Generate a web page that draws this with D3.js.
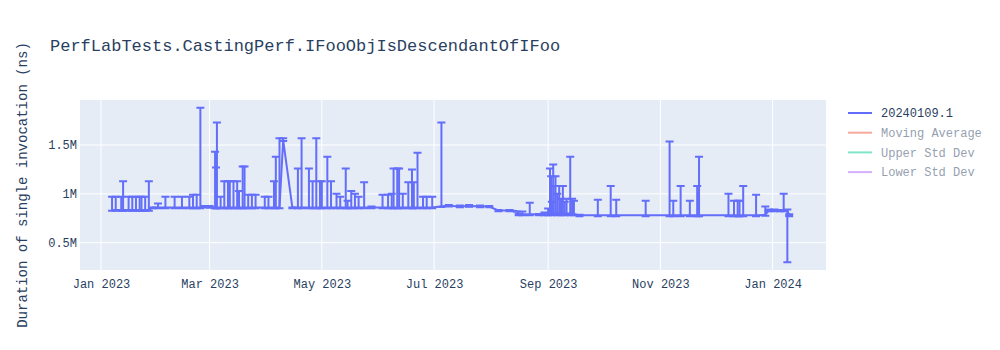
<!DOCTYPE html>
<html>
<head>
<meta charset="utf-8">
<script src="https://cdn.jsdelivr.net/npm/d3@7"></script>
<style>
  body { margin: 0; background: #fff; }
  svg text { font-family: "Courier New", "Liberation Mono", monospace; fill: #2a3f5f; }
  .grid line { stroke: #fff; stroke-width: 1; }
  .axis path, .axis line { display: none; }
</style>
</head>
<body>
<script>
const title = 'PerfLabTests.CastingPerf.IFooObjIsDescendantOfIFoo'
const yTitle = 'Duration of single invocation (ns)'
const seriesNames = ['20240109.1', 'Moving Average', 'Upper Std Dev', 'Lower Std Dev']
const seriesColors = ['#636efa', '#EF553B', '#00cc96', '#ab63fa']
const yTicks = [500000, 1000000, 1500000]
const xTicks = ['2023-01-01', '2023-03-01', '2023-05-01', '2023-07-01', '2023-09-01', '2023-11-01', '2024-01-01']

// run dates, measured value, and top / bottom of each error bar (ns)
const dates = [
  '2023-01-07','2023-01-09','2023-01-12','2023-01-13','2023-01-16','2023-01-18','2023-01-20','2023-01-22','2023-01-23','2023-01-25',
  '2023-01-27','2023-01-29','2023-02-01','2023-02-05','2023-02-10','2023-02-14','2023-02-18','2023-02-20','2023-02-22','2023-02-24',
  '2023-02-26','2023-03-01','2023-03-04','2023-03-04T12:00','2023-03-05','2023-03-07','2023-03-09','2023-03-11','2023-03-12','2023-03-14',
  '2023-03-16','2023-03-17','2023-03-19','2023-03-20','2023-03-22','2023-03-24','2023-03-26','2023-03-31','2023-04-02','2023-04-05',
  '2023-04-06','2023-04-08','2023-04-10','2023-04-15','2023-04-18','2023-04-20','2023-04-24','2023-04-26','2023-04-28','2023-04-30',
  '2023-05-01','2023-05-04','2023-05-06','2023-05-09','2023-05-11','2023-05-14','2023-05-15','2023-05-17','2023-05-19','2023-05-21',
  '2023-05-24','2023-05-28','2023-06-03','2023-06-06','2023-06-08','2023-06-09','2023-06-11','2023-06-12','2023-06-14','2023-06-17',
  '2023-06-19','2023-06-20','2023-06-22','2023-06-25','2023-06-27','2023-06-30','2023-07-05','2023-07-09','2023-07-15','2023-07-20',
  '2023-07-26','2023-07-31','2023-08-05','2023-08-11','2023-08-15','2023-08-16','2023-08-18','2023-08-22','2023-08-27','2023-08-30',
  '2023-09-01','2023-09-02','2023-09-02T16:00','2023-09-03','2023-09-03T18:00','2023-09-04','2023-09-05','2023-09-05T22:00','2023-09-07','2023-09-08',
  '2023-09-09','2023-09-10','2023-09-11','2023-09-13','2023-09-14','2023-09-15','2023-09-18','2023-09-28','2023-10-05','2023-10-08',
  '2023-10-24','2023-11-06','2023-11-08','2023-11-12','2023-11-17','2023-11-21','2023-11-22','2023-12-08','2023-12-11','2023-12-13',
  '2023-12-14','2023-12-16','2023-12-23','2023-12-28','2023-12-30','2024-01-02','2024-01-05','2024-01-07','2024-01-09','2024-01-10'
]
const values = [
  835000,835000,835000,835000,835000,835000,835000,835000,835000,835000,
  835000,860000,860000,860000,860000,860000,860000,860000,860000,860000,
  870000,865000,860000,860000,860000,860000,860000,860000,860000,860000,
  860000,860000,860000,860000,860000,860000,860000,860000,860000,860000,
  860000,860000,1550000,860000,860000,860000,860000,860000,860000,860000,
  860000,860000,860000,860000,860000,860000,860000,860000,860000,860000,
  860000,860000,860000,860000,860000,860000,860000,860000,860000,860000,
  860000,860000,860000,860000,860000,860000,873000,878000,870000,876000,
  872000,870000,830000,830000,825000,790000,790000,790000,790000,800000,
  800000,800000,800000,800000,800000,800000,800000,800000,800000,800000,
  800000,800000,800000,800000,800000,795000,780000,780000,780000,780000,
  780000,780000,780000,780000,780000,780000,780000,780000,780000,780000,
  780000,780000,780000,785000,830000,830000,830000,830000,830000,780000
]
const uppers = [
  970000,970000,970000,1130000,970000,970000,970000,970000,970000,970000,
  1130000,860000,900000,970000,970000,970000,970000,990000,990000,1880000,
  875000,875000,1430000,1270000,1730000,970000,1130000,1130000,1130000,1130000,
  1130000,1030000,1280000,1280000,990000,990000,990000,970000,970000,1130000,
  1380000,1570000,1570000,860000,1260000,1570000,1260000,1130000,1570000,1130000,
  1130000,1380000,1130000,1000000,970000,1260000,930000,1030000,1000000,970000,
  1120000,870000,990000,990000,1000000,1260000,1260000,1260000,1000000,1120000,
  1250000,1120000,1420000,970000,970000,970000,1730000,885000,880000,885000,
  880000,875000,835000,835000,820000,795000,820000,910000,795000,810000,
  850000,1260000,1180000,920000,1300000,1080000,1180000,1000000,1080000,950000,
  1080000,920000,950000,1380000,950000,930000,785000,940000,1080000,940000,
  930000,1535000,930000,1080000,930000,1080000,1380000,1000000,930000,930000,
  930000,1080000,990000,870000,840000,840000,835000,1000000,840000,790000
]
const lowers = [
  828000,828000,828000,828000,828000,828000,828000,828000,828000,828000,
  828000,852000,852000,852000,852000,852000,852000,852000,852000,852000,
  862000,857000,852000,852000,852000,852000,852000,852000,852000,852000,
  852000,852000,852000,852000,852000,852000,852000,852000,852000,852000,
  852000,852000,1540000,852000,852000,852000,852000,852000,852000,852000,
  852000,852000,852000,852000,852000,852000,852000,852000,852000,852000,
  852000,852000,852000,852000,852000,852000,852000,852000,852000,852000,
  852000,852000,852000,852000,852000,852000,865000,870000,862000,868000,
  864000,862000,822000,822000,817000,782000,782000,782000,782000,780000,
  780000,785000,790000,780000,790000,785000,790000,780000,785000,780000,
  785000,780000,785000,780000,785000,780000,772000,772000,772000,772000,
  772000,772000,772000,772000,772000,772000,772000,772000,772000,772000,
  772000,772000,772000,777000,822000,822000,822000,822000,300000,772000
]

const parse = d3.isoParse
const data = dates.map((d, i) => ({date: parse(d), v: values[i], hi: uppers[i], lo: lowers[i]}))

const W = 1000, H = 350
const margin = {top: 100, right: 174, bottom: 80, left: 80}
const width = W - margin.left - margin.right,
      height = H - margin.top - margin.bottom

const svg = d3.select('body').append('svg')
    .attr('width', W)
    .attr('height', H)

svg.append('text')
  .attr('x', 50)
  .attr('y', 51)
  .style('font-size', '17px')
  .text(title)

const g = svg.append('g')
  .attr('transform', 'translate(' + margin.left + ',' + margin.top + ')')

const x = d3.scaleTime()
  .domain([new Date(2022, 11, 20, 14), new Date(2024, 0, 30)])
  .range([0, width])
const y = d3.scaleLinear()
  .domain([220600, 1960600])
  .range([height, 0])

g.append('rect')
  .attr('width', width)
  .attr('height', height)
  .attr('fill', '#E5ECF6')

const xTickDates = xTicks.map(d => parse(d))

g.append('g').attr('class', 'grid')
  .selectAll('line').data(xTickDates).enter().append('line')
  .attr('x1', d => x(d)).attr('x2', d => x(d))
  .attr('y1', 0).attr('y2', height)
g.append('g').attr('class', 'grid')
  .selectAll('line').data(yTicks).enter().append('line')
  .attr('y1', d => y(d)).attr('y2', d => y(d))
  .attr('x1', 0).attr('x2', width)

g.append('g').attr('class', 'axis')
  .attr('transform', 'translate(0,' + height + ')')
  .call(d3.axisBottom(x).tickValues(xTickDates).tickFormat(d3.timeFormat('%b %Y')).tickSize(0).tickPadding(9))
  .selectAll('text').style('font-size', '12px').attr('fill', '#2a3f5f')

g.append('g').attr('class', 'axis')
  .call(d3.axisLeft(y).tickValues(yTicks).tickFormat(d => d / 1e6 + 'M').tickSize(0).tickPadding(3))
  .selectAll('text').style('font-size', '12px').attr('fill', '#2a3f5f')

svg.append('text')
  .attr('transform', 'translate(27,' + (margin.top + height / 2) + ') rotate(-90)')
  .attr('text-anchor', 'middle')
  .style('font-size', '14px')
  .text(yTitle)

svg.append('clipPath').attr('id', 'clip')
  .append('rect').attr('x', -10).attr('y', 0).attr('width', width + 20).attr('height', height)

const plot = g.append('g').attr('clip-path', 'url(#clip)')
const col = seriesColors[0]

const bars = plot.append('g').attr('stroke', col).attr('stroke-width', 2).attr('fill', 'none')
bars.selectAll('path')
  .data(data)
  .enter().append('path')
  .attr('d', d => {
    const px = x(d.date), t = y(d.hi), b = y(d.lo)
    return 'M' + px + ',' + t + 'V' + b +
      'M' + (px - 4) + ',' + t + 'H' + (px + 4) +
      'M' + (px - 4) + ',' + b + 'H' + (px + 4)
  })

const line = d3.line().x(d => x(d.date)).y(d => y(d.v))
plot.append('path')
  .datum(data)
  .attr('fill', 'none')
  .attr('stroke', col)
  .attr('stroke-width', 2)
  .attr('stroke-linejoin', 'round')
  .attr('d', line)

// legend
const legend = svg.append('g').attr('transform', 'translate(846,113)')
const items = legend.selectAll('g')
  .data(seriesNames)
  .enter().append('g')
  .attr('transform', (d, i) => 'translate(0,' + (i * 19.7) + ')')
  .style('opacity', (d, i) => i === 0 ? 1 : 0.5)
items.append('line')
  .attr('x1', 2).attr('x2', 26)
  .attr('stroke', (d, i) => seriesColors[i])
  .attr('stroke-width', 2)
items.append('text')
  .attr('x', 35)
  .attr('dy', '0.35em')
  .style('font-size', '12px')
  .text(d => d)
</script>
</body>
</html>
